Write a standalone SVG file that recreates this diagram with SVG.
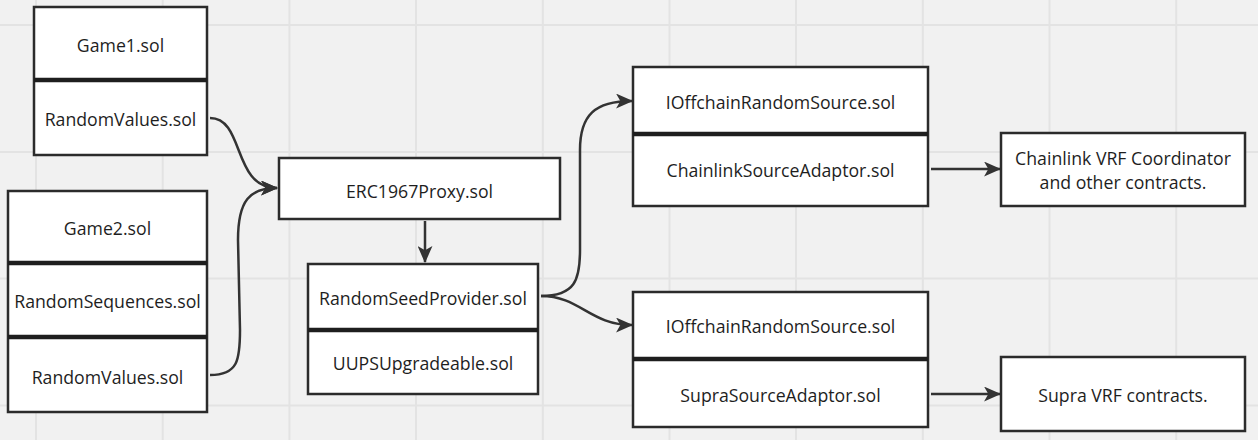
<svg xmlns="http://www.w3.org/2000/svg" width="1258" height="440" viewBox="0 0 1258 440">
<style>
.box{fill:#ffffff;stroke:#2b2b2b;stroke-width:2.5}
.div{stroke:#1e1e1e;stroke-width:4.5}
.t{font-family:"Open Sans","Noto Sans",sans-serif;font-size:17.7px;fill:#1e1e1e;text-anchor:middle;dominant-baseline:central}
.c{fill:none;stroke:#333333;stroke-width:2.5}
.g{stroke:#e3e3e3;stroke-width:2}
</style>
<defs>
<marker id="ah" viewBox="0 0 16 14" refX="15" refY="7" markerWidth="17" markerHeight="15" markerUnits="userSpaceOnUse" orient="auto">
<path d="M0,0 L16,7 L0,14 L4,7 z" fill="#333333"/>
</marker>
</defs>
<rect width="1258" height="440" fill="#f1f1f1"/>
<g id="grid">
<path class="g" d="M36,0V440M162.7,0V440M289.4,0V440M416,0V440M542.8,0V440M669.5,0V440M796,0V440M922.8,0V440M1049.5,0V440M1176.2,0V440M0,25H1258M0,152H1258M0,278.5H1258M0,405.5H1258"/>
</g>
<g id="connectors">
<path class="c" d="M210,118 C245,118 232,188 277,188" marker-end="url(#ah)"/>
<path class="c" d="M210,375 C238,375 240,360 240,330 L238,240 C238,200 250,188 277,188" marker-end="url(#ah)"/>
<path class="c" d="M425,221 L425,262" marker-end="url(#ah)"/>
<path class="c" d="M541,296 C575,296 580,280 580,250 L580,150 C580,115 595,101 632,101" marker-end="url(#ah)"/>
<path class="c" d="M541,296 C580,296 590,325 632,325" marker-end="url(#ah)"/>
<path class="c" d="M931,169 L1000,169" marker-end="url(#ah)"/>
<path class="c" d="M931,394 L1000,394" marker-end="url(#ah)"/>
</g>
<g id="game1">
<rect class="box" x="34" y="7" width="173" height="148"/>
<line class="div" x1="34" y1="80" x2="207" y2="80"/>
<text class="t" x="120.5" y="45">Game1.sol</text>
<text class="t" x="120.5" y="119">RandomValues.sol</text>
</g>
<g id="game2">
<rect class="box" x="8" y="191" width="199" height="221"/>
<line class="div" x1="8" y1="263" x2="207" y2="263"/>
<line class="div" x1="8" y1="337" x2="207" y2="337"/>
<text class="t" x="107.5" y="228">Game2.sol</text>
<text class="t" x="107.5" y="301">RandomSequences.sol</text>
<text class="t" x="107.5" y="377">RandomValues.sol</text>
</g>
<g id="erc1967">
<rect class="box" x="279" y="158" width="281" height="61"/>
<text class="t" x="419.5" y="191">ERC1967Proxy.sol</text>
</g>
<g id="seedprovider">
<rect class="box" x="308" y="264" width="230" height="130"/>
<line class="div" x1="308" y1="330" x2="538" y2="330"/>
<text class="t" x="423" y="298">RandomSeedProvider.sol</text>
<text class="t" x="423" y="363">UUPSUpgradeable.sol</text>
</g>
<g id="chainlinkadaptor">
<rect class="box" x="633" y="67" width="295" height="139"/>
<line class="div" x1="633" y1="134" x2="928" y2="134"/>
<text class="t" x="780.5" y="102">IOffchainRandomSource.sol</text>
<text class="t" x="780.5" y="170">ChainlinkSourceAdaptor.sol</text>
</g>
<g id="supraadaptor">
<rect class="box" x="633" y="292" width="295" height="135"/>
<line class="div" x1="633" y1="359" x2="928" y2="359"/>
<text class="t" x="780.5" y="326">IOffchainRandomSource.sol</text>
<text class="t" x="780.5" y="395">SupraSourceAdaptor.sol</text>
</g>
<g id="chainlinkvrf">
<rect class="box" x="1001" y="133" width="244" height="73"/>
<text class="t" x="1123" y="158">Chainlink VRF Coordinator</text>
<text class="t" x="1123" y="182">and other contracts.</text>
</g>
<g id="supravrf">
<rect class="box" x="1001" y="357" width="244" height="74"/>
<text class="t" x="1123" y="395">Supra VRF contracts.</text>
</g>
</svg>
